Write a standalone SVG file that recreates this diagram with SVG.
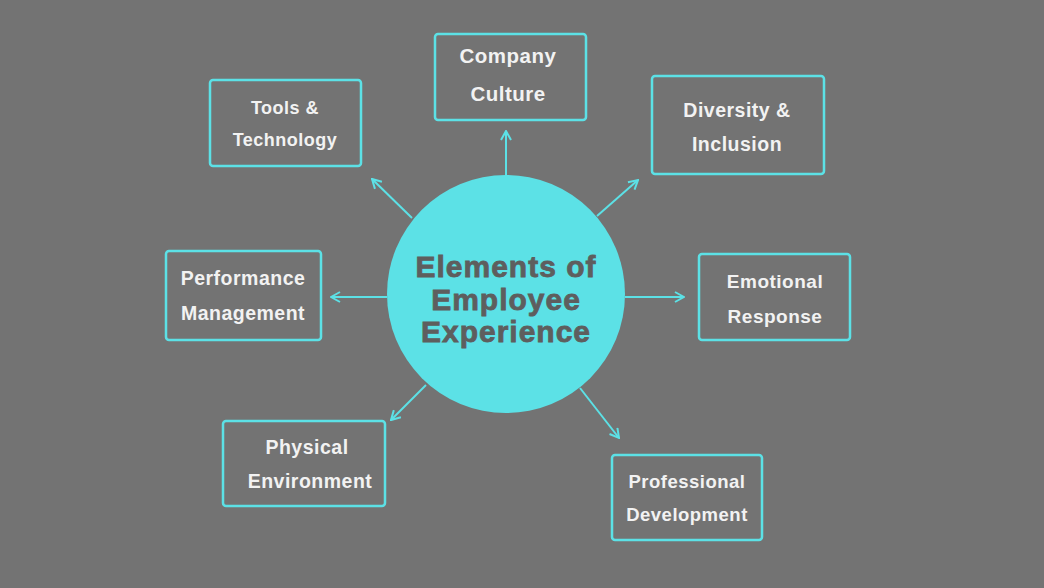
<svg xmlns="http://www.w3.org/2000/svg" width="1044" height="588" viewBox="0 0 1044 588">
<defs>
<style>
.box{fill:none;stroke:#5ce1e6;stroke-width:2.5}
.lbl{font-family:"Liberation Sans",Arial,sans-serif;font-weight:bold;fill:#f2f2f2;text-anchor:middle;letter-spacing:0.5px}
.ctr{font-family:"Liberation Sans",Arial,sans-serif;font-weight:bold;fill:#5e5e5e;stroke:#5e5e5e;stroke-width:0.8;text-anchor:middle;font-size:30px;letter-spacing:1px}
.conn{stroke:#5ce1e6;stroke-width:2;fill:none}
</style>
<marker id="ah" viewBox="0 0 12 12" refX="11" refY="6" markerWidth="12" markerHeight="12" markerUnits="userSpaceOnUse" orient="auto">
<path d="M2,1 L11,6 L2,11" fill="none" stroke="#5ce1e6" stroke-width="2"/>
</marker>
</defs>
<rect width="1044" height="588" fill="#737373"/>
<g id="connectors">
<line class="conn" x1="506" y1="176" x2="506" y2="131" marker-end="url(#ah)"/>
<line class="conn" x1="412" y1="218" x2="372" y2="179" marker-end="url(#ah)"/>
<line class="conn" x1="597" y1="216" x2="638" y2="180" marker-end="url(#ah)"/>
<line class="conn" x1="387" y1="297" x2="331" y2="297" marker-end="url(#ah)"/>
<line class="conn" x1="625" y1="297" x2="684" y2="297" marker-end="url(#ah)"/>
<line class="conn" x1="426" y1="385" x2="391" y2="420" marker-end="url(#ah)"/>
<line class="conn" x1="580" y1="388" x2="619" y2="438" marker-end="url(#ah)"/>
</g>
<g id="center">
<circle cx="506" cy="294" r="119" fill="#5ce1e6"/>
<text class="ctr" x="506" y="277">Elements of</text>
<text class="ctr" x="506" y="310">Employee</text>
<text class="ctr" x="506" y="342">Experience</text>
</g>
<g id="company-culture">
<rect class="box" x="435" y="34" width="151" height="86" rx="3"/>
<text class="lbl" x="508" y="63" font-size="20.5">Company</text>
<text class="lbl" x="508" y="101" font-size="20.5">Culture</text>
</g>
<g id="tools-technology">
<rect class="box" x="210" y="80" width="151" height="86" rx="3"/>
<text class="lbl" x="285" y="114" font-size="18">Tools &amp;</text>
<text class="lbl" x="285" y="146" font-size="18">Technology</text>
</g>
<g id="diversity-inclusion">
<rect class="box" x="652" y="76" width="172" height="98" rx="3"/>
<text class="lbl" x="737" y="117" font-size="19.5">Diversity &amp;</text>
<text class="lbl" x="737" y="151" font-size="19.5">Inclusion</text>
</g>
<g id="performance-management">
<rect class="box" x="166" y="251" width="155" height="89" rx="3"/>
<text class="lbl" x="243" y="285" font-size="19.5">Performance</text>
<text class="lbl" x="243" y="320" font-size="19.5">Management</text>
</g>
<g id="emotional-response">
<rect class="box" x="699" y="254" width="151" height="86" rx="3"/>
<text class="lbl" x="775" y="288" font-size="19">Emotional</text>
<text class="lbl" x="775" y="323" font-size="19">Response</text>
</g>
<g id="physical-environment">
<rect class="box" x="223" y="421" width="162" height="85" rx="3"/>
<text class="lbl" x="307" y="454" font-size="19.5">Physical</text>
<text class="lbl" x="310" y="488" font-size="19.5">Environment</text>
</g>
<g id="professional-development">
<rect class="box" x="612" y="455" width="150" height="85" rx="3"/>
<text class="lbl" x="687" y="488" font-size="18.5">Professional</text>
<text class="lbl" x="687" y="521" font-size="18.5">Development</text>
</g>
</svg>
